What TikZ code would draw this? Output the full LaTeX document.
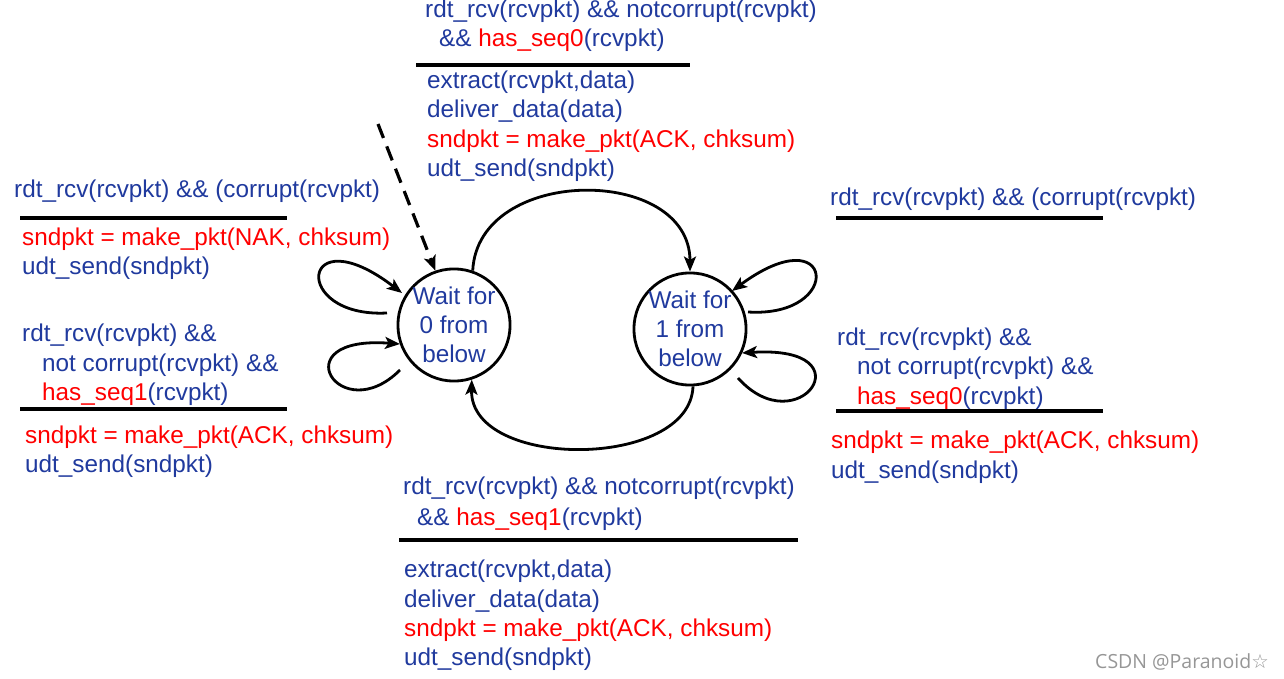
\documentclass[tikz,border=0pt]{standalone}
\usepackage{fontspec}
\setmainfont{Liberation Sans}
\newfontfamily\wmfont{Open Sans}
\newfontfamily\symfont{DejaVu Sans}
\usetikzlibrary{arrows.meta}
\definecolor{tblue}{RGB}{32,58,158}
\definecolor{tred}{RGB}{255,0,0}
\definecolor{wmgray}{RGB}{150,150,150}
\begin{document}
\begin{tikzpicture}[x=1pt,y=-1pt,
  lbl/.style={anchor=base west, inner sep=0, text=tblue, font=\fontsize{24.3}{29}\selectfont},
  rlbl/.style={lbl, text=tred},
  bar/.style={line width=3.2pt},
  state/.style={circle, draw, line width=2.8pt, inner sep=0, align=center, text=tblue, font=\fontsize{24.3}{29}\selectfont},
  arr/.style={line width=2.8pt, -{Stealth[length=15pt,width=12pt,inset=3.5pt]}},
]
\useasboundingbox (0,0) rectangle (1284,679);

% states
\node[state, minimum size=108pt] (s0) at (454,325) {Wait for\\0 from\\below};
\node[state, minimum size=112pt] (s1) at (690,329) {Wait for\\1 from\\below};

% top transition label
\node[lbl] (t1) at (425,18) {rdt\_rcv(rcvpkt) \&\& notcorrupt(rcvpkt)};
\node[lbl] (t2) at (439,47) {\&\& \textcolor{tred}{has\_seq0}(rcvpkt)};
\draw[bar] (416,65) -- (690,65);
\node[lbl] (t3) at (427,89) {extract(rcvpkt,data)};
\node[lbl] (t4) at (427,118) {deliver\_data(data)};
\node[rlbl] (t5) at (427,148) {sndpkt = make\_pkt(ACK, chksum)};
\node[lbl] (t6) at (427,177) {udt\_send(sndpkt)};

% left labels
\node[lbl] (l1) at (14,197) {rdt\_rcv(rcvpkt) \&\& (corrupt(rcvpkt)};
\draw[bar] (20,218) -- (287,218);
\node[rlbl] (l2) at (22,245) {sndpkt = make\_pkt(NAK, chksum)};
\node[lbl] (l3) at (22,274) {udt\_send(sndpkt)};
\node[lbl] (l4) at (22,341) {rdt\_rcv(rcvpkt) \&\&};
\node[lbl] (l5) at (42,371) {not corrupt(rcvpkt) \&\&};
\node[lbl] (l6) at (42,400) {\textcolor{tred}{has\_seq1}(rcvpkt)};
\draw[bar] (20,409) -- (287,409);
\node[rlbl] (l7) at (25,443) {sndpkt = make\_pkt(ACK, chksum)};
\node[lbl] (l8) at (25,472) {udt\_send(sndpkt)};

% right labels
\node[lbl] (r1) at (830,205) {rdt\_rcv(rcvpkt) \&\& (corrupt(rcvpkt)};
\draw[bar] (836,218) -- (1103,218);
\node[lbl] (r2) at (837,345) {rdt\_rcv(rcvpkt) \&\&};
\node[lbl] (r3) at (857,374) {not corrupt(rcvpkt) \&\&};
\node[lbl] (r4) at (857,404) {\textcolor{tred}{has\_seq0}(rcvpkt)};
\draw[bar] (836,411) -- (1103,411);
\node[rlbl] (r5) at (831,448) {sndpkt = make\_pkt(ACK, chksum)};
\node[lbl] (r6) at (831,478) {udt\_send(sndpkt)};

% bottom labels
\node[lbl] (b1) at (403,494) {rdt\_rcv(rcvpkt) \&\& notcorrupt(rcvpkt)};
\node[lbl] (b2) at (417,525) {\&\& \textcolor{tred}{has\_seq1}(rcvpkt)};
\draw[bar] (399,540) -- (798,540);
\node[lbl] (b3) at (404,577) {extract(rcvpkt,data)};
\node[lbl] (b4) at (404,607) {deliver\_data(data)};
\node[rlbl] (b5) at (404,636) {sndpkt = make\_pkt(ACK, chksum)};
\node[lbl] (b6) at (404,665) {udt\_send(sndpkt)};

% initial dashed arrow
\coordinate (init) at (378,124);
\draw[arr, line width=3.2pt, dash pattern=on 15pt off 9pt] (init) -- (s0.109);

% transitions between states
\draw[arr] (s0.71) .. controls (478,165) and (690,165) .. (s1.90);
\draw[arr] (s1.273) .. controls (690,470) and (470,470) .. (s0.288);

% self loops
\coordinate (la) at (387,313);
\coordinate (lb) at (402,293);
\coordinate (lc) at (400,370);
\coordinate (ld) at (400,344);
\draw[arr] (la) .. controls (290,318) and (300,215) .. (lb);
\draw[arr] (lc) .. controls (340,430) and (280,335) .. (ld);
\coordinate (ra) at (748,312);
\coordinate (rb) at (732,291);
\coordinate (rc) at (738,378);
\coordinate (rd) at (742,353);
\draw[arr] (ra) .. controls (845,318) and (835,215) .. (rb);
\draw[arr] (rc) .. controls (798,445) and (870,345) .. (rd);

% watermark
\node[anchor=base west, inner sep=0, text=wmgray, font=\wmfont\fontsize{19.5}{22}\selectfont] (wm) at (1095,668) {CSDN @Paranoid{\symfont ☆}};
\end{tikzpicture}
\end{document}
